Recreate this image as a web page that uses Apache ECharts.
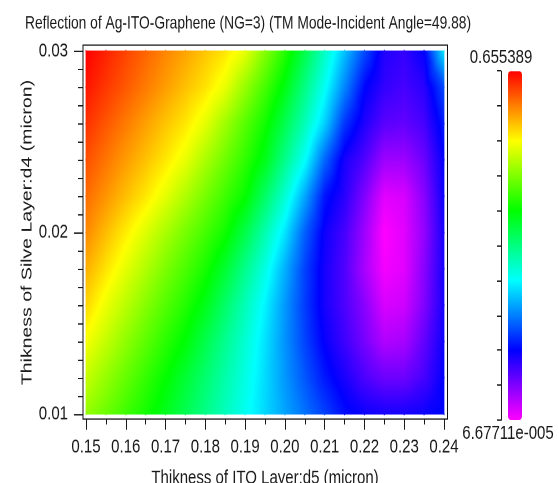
<!DOCTYPE html>
<html>
<head>
<meta charset="utf-8">
<script src="https://cdn.jsdelivr.net/npm/echarts@6/dist/echarts.min.js"></script>
<style>
  html, body { margin: 0; padding: 0; background: #fff; overflow: hidden; }
  #wrap { width: 559px; height: 483px; overflow: hidden; }
  /* the plot is laid out on a shorter canvas and stretched vertically */
  #chart { width: 559px; height: 372px; transform: scaleY(1.29839); transform-origin: 0 0; }
</style>
</head>
<body>
<div id="wrap"><div id="chart"></div></div>
<script>
// ITO layer thickness d5 (micron), one value per column
const d5 = [0.150, 0.155, 0.160, 0.165, 0.170, 0.175, 0.180, 0.185, 0.190, 0.195,
            0.200, 0.205, 0.210, 0.215, 0.220, 0.225, 0.230, 0.235, 0.240];

// Silver layer thickness d4 (micron), one value per row, thickest first
const d4 = [0.030, 0.028, 0.026, 0.024, 0.022, 0.020, 0.018, 0.016, 0.014, 0.012, 0.010];

// Reflection at each node: reflection[row of d4][column of d5]
const reflection = [
  [0.655389,0.638,0.621,0.604,0.587,0.571,0.554,0.537,0.512,0.462,0.413,0.356,0.293,0.231,0.170,0.115,0.105,0.130,0.250],
  [0.645,0.627,0.610,0.592,0.574,0.556,0.538,0.513,0.471,0.429,0.384,0.326,0.268,0.200,0.134,0.105,0.095,0.110,0.170],
  [0.630,0.611,0.592,0.573,0.554,0.536,0.511,0.475,0.438,0.402,0.353,0.299,0.238,0.159,0.115,0.085,0.080,0.095,0.145],
  [0.615,0.595,0.575,0.556,0.536,0.513,0.481,0.450,0.418,0.381,0.323,0.265,0.184,0.120,0.090,0.050,0.050,0.075,0.130],
  [0.600,0.579,0.557,0.536,0.511,0.483,0.454,0.425,0.396,0.342,0.285,0.217,0.142,0.110,0.065,0.015,0.020,0.060,0.125],
  [0.585,0.559,0.533,0.507,0.480,0.454,0.428,0.401,0.356,0.304,0.249,0.181,0.125,0.095,0.050,0.0000667711,0.015,0.055,0.120],
  [0.565,0.538,0.511,0.484,0.457,0.432,0.405,0.368,0.322,0.276,0.222,0.165,0.120,0.090,0.045,0.005,0.015,0.060,0.120],
  [0.545,0.515,0.489,0.462,0.436,0.411,0.381,0.340,0.299,0.257,0.210,0.162,0.120,0.092,0.060,0.020,0.025,0.065,0.120],
  [0.520,0.494,0.467,0.441,0.415,0.390,0.355,0.320,0.285,0.248,0.207,0.166,0.128,0.100,0.070,0.040,0.045,0.080,0.125],
  [0.495,0.470,0.445,0.420,0.395,0.367,0.337,0.306,0.276,0.244,0.210,0.176,0.143,0.118,0.092,0.075,0.075,0.095,0.130],
  [0.470,0.448,0.425,0.403,0.378,0.352,0.324,0.296,0.269,0.242,0.216,0.190,0.164,0.138,0.125,0.120,0.120,0.125,0.135]
];

// Colour scale range and colour stops (low to high)
const reflMin = 6.67711e-5;
const reflMax = 0.655389;
const palette = ['#ff00ff', '#0000ff', '#00ffff', '#00ff00', '#ffff00', '#ff0000'];

// Axis ranges and tick steps
const d5Range = [0.15, 0.24], d5Step = 0.01;
const d4Range = [0.01, 0.03], d4Step = 0.01;
const colorbarTicks = 10;

const titleText = 'Reflection of Ag-ITO-Graphene (NG=3) (TM Mode-Incident Angle=49.88)';
const xName = 'Thikness of ITO Layer:d5 (micron)';
const yName = 'Thikness of Silve Layer:d4 (micron)';

const fontFamily = 'Liberation Sans, Arial, sans-serif';
const ink = '#1a1a1a';

// ---- colour lookup identical to the visualMap's linear RGB ramp ----
const paletteRgb = palette.map(h => [1, 3, 5].map(i => parseInt(h.slice(i, i + 2), 16)));
const segs = paletteRgb.length - 1;
function colorAt(v) {
  let f = (v - reflMin) / (reflMax - reflMin) * segs;
  f = Math.max(0, Math.min(segs, f));
  const k = Math.min(segs - 1, Math.floor(f));
  const t = f - k;
  const a = paletteRgb[k], b = paletteRgb[k + 1];
  return 'rgb(' + a.map((c, i) => Math.round(c + (b[i] - c) * t)).join(',') + ')';
}
const breakpoints = paletteRgb.map((_, k) => reflMin + (reflMax - reflMin) * k / segs);

// A triangle whose colour varies linearly between its three corner values
function shadedTriangle(A, B, C) {
  const lo = Math.min(A.v, B.v, C.v), hi = Math.max(A.v, B.v, C.v);
  let fill;
  if (hi - lo < 1e-12) {
    fill = colorAt(lo);
  } else {
    const e1x = B.p[0] - A.p[0], e1y = B.p[1] - A.p[1];
    const e2x = C.p[0] - A.p[0], e2y = C.p[1] - A.p[1];
    const dv1 = B.v - A.v, dv2 = C.v - A.v;
    const det = e1x * e2y - e1y * e2x;
    const gx = (dv1 * e2y - dv2 * e1y) / det;
    const gy = (e1x * dv2 - e2x * dv1) / det;
    const gg = gx * gx + gy * gy;
    const sx = A.p[0] + gx * (lo - A.v) / gg, sy = A.p[1] + gy * (lo - A.v) / gg;
    const ex = A.p[0] + gx * (hi - A.v) / gg, ey = A.p[1] + gy * (hi - A.v) / gg;
    const ts = [0, 1];
    breakpoints.forEach(b => { if (b > lo && b < hi) ts.push((b - lo) / (hi - lo)); });
    ts.sort((a, b) => a - b);
    const stops = ts.map(t => ({ offset: t, color: colorAt(lo + t * (hi - lo)) }));
    fill = new echarts.graphic.LinearGradient(sx, sy, ex, ey, stops, true);
  }
  return {
    type: 'polygon',
    shape: { points: [A.p, B.p, C.p] },
    style: { fill: fill, stroke: fill, lineWidth: 0.8 },
    silent: true
  };
}

// Each node owns the cell towards the next column and the next row
function renderCell(params, api) {
  const nx = d5.length;
  const r = Math.floor(params.dataIndex / nx);
  const c = params.dataIndex % nx;
  if (r >= d4.length - 1 || c >= nx - 1) return null;
  const corners = [[c, r], [c + 1, r], [c + 1, r + 1], [c, r + 1]].map(([cc, rr]) => ({
    p: api.coord([d5[cc], d4[rr]]),
    v: reflection[rr][cc]
  }));
  const mid = {
    p: [(corners[0].p[0] + corners[2].p[0]) / 2, (corners[0].p[1] + corners[2].p[1]) / 2],
    v: (corners[0].v + corners[1].v + corners[2].v + corners[3].v) / 4
  };
  const children = [];
  for (let k = 0; k < 4; k++) {
    children.push(shadedTriangle(corners[k], corners[(k + 1) % 4], mid));
  }
  return { type: 'group', children: children };
}

const nodes = [];
d4.forEach((y, r) => d5.forEach((x, c) => nodes.push([x, y, reflection[r][c]])));

function expLabel(v) {
  const [m, e] = v.toExponential(5).split('e');
  const digits = e.replace(/[+-]/, '').padStart(3, '0');
  return m + 'e' + (e[0] === '-' ? '-' : '') + digits;
}

const axisText = { fontSize: 15, color: ink, fontFamily: fontFamily };
const fixedGrid = { containLabel: false, outerBoundsMode: 'none' };

const chart = echarts.init(document.getElementById('chart'), null, { renderer: 'canvas', devicePixelRatio: 2 });
chart.setOption({
  animation: false,
  backgroundColor: '#fff',
  textStyle: { fontFamily: fontFamily },
  title: {
    text: titleText,
    left: 20,
    top: 6,
    textStyle: { fontSize: 13.8, fontWeight: 'normal', color: ink, fontFamily: fontFamily }
  },
  grid: [
    { ...fixedGrid, left: 86, right: 115, top: 39.3, bottom: 53.15 },
    { ...fixedGrid, left: 83, right: 111.5, top: 34.7, bottom: 49.3, show: true, borderColor: '#111', borderWidth: 1, backgroundColor: 'transparent' },
    { ...fixedGrid, left: 501, width: 7, top: 54.7, height: 268.8 }
  ],
  xAxis: [
    {
      gridIndex: 0, type: 'value', min: d5Range[0], max: d5Range[1], interval: d5Step,
      offset: 4,
      axisLine: { show: false },
      axisTick: { show: true, length: 8, lineStyle: { color: ink } },
      minorTick: { show: true, splitNumber: 2, length: 4, lineStyle: { color: ink } },
      splitLine: { show: false },
      axisLabel: { margin: 14, ...axisText, formatter: v => v.toFixed(2) },
      name: xName, nameLocation: 'middle', nameGap: 38, nameMoveOverlap: false, nameTextStyle: axisText
    },
    { gridIndex: 1, type: 'value', show: false },
    { gridIndex: 2, type: 'value', show: false }
  ],
  yAxis: [
    {
      gridIndex: 0, type: 'value', min: d4Range[0], max: d4Range[1], interval: d4Step,
      offset: 3,
      axisLine: { show: false },
      axisTick: { show: true, length: 9, lineStyle: { color: ink } },
      minorTick: { show: true, splitNumber: 10, length: 5, lineStyle: { color: ink } },
      splitLine: { show: false },
      axisLabel: { margin: 15, ...axisText, formatter: v => v.toFixed(2) },
      name: yName, nameLocation: 'middle', nameGap: 48, nameMoveOverlap: false, nameTextStyle: axisText
    },
    { gridIndex: 1, type: 'value', show: false },
    {
      gridIndex: 2, type: 'value', min: 0, max: colorbarTicks, interval: 1,
      axisLine: { show: true, lineStyle: { color: ink, width: 1 } },
      axisTick: { show: true, length: 4, lineStyle: { color: ink } },
      axisLabel: { show: false },
      splitLine: { show: false },
      name: String(reflMax), nameLocation: 'end', nameGap: 3, nameTextStyle: axisText
    },
    {
      gridIndex: 2, type: 'value', min: 0, max: colorbarTicks,
      axisLine: { show: false }, axisTick: { show: false }, axisLabel: { show: false }, splitLine: { show: false },
      name: expLabel(reflMin), nameLocation: 'start', nameGap: 3, nameTextStyle: axisText
    }
  ],
  visualMap: {
    type: 'continuous',
    seriesIndex: 0,
    dimension: 2,
    min: reflMin,
    max: reflMax,
    calculable: false,
    orient: 'vertical',
    left: 508,
    top: 54.7,
    padding: 0,
    itemWidth: 14,
    itemHeight: 268.8,
    text: null,
    showLabel: false,
    inRange: { color: palette }
  },
  series: [{
    type: 'custom',
    coordinateSystem: 'cartesian2d',
    xAxisIndex: 0,
    yAxisIndex: 0,
    renderItem: renderCell,
    encode: { x: 0, y: 1 },
    data: nodes,
    silent: true
  }]
});
</script>
</body>
</html>
